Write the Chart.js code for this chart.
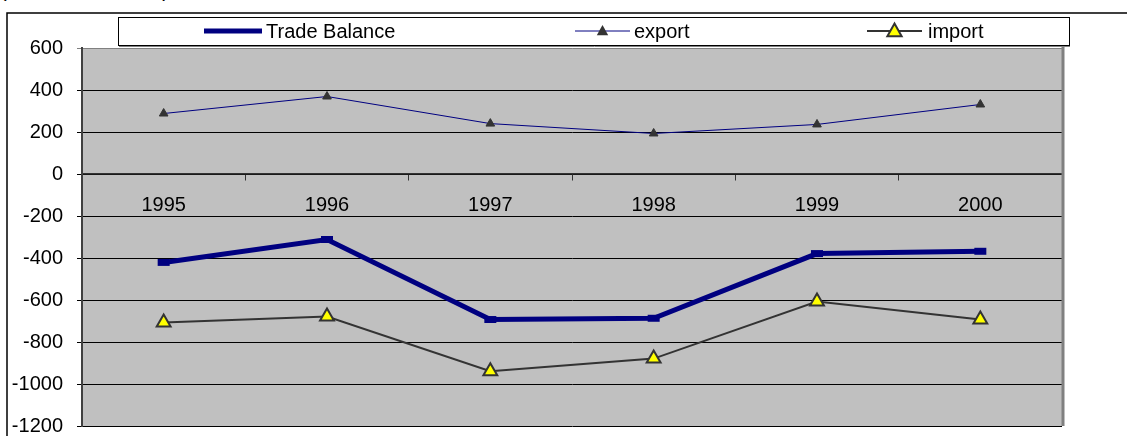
<!DOCTYPE html>
<html>
<head>
<meta charset="utf-8">
<script src="https://cdn.jsdelivr.net/npm/chart.js@4.4.0/dist/chart.umd.min.js"></script>
<style>
  html, body { margin: 0; padding: 0; background: #fff; }
  #wrap { position: relative; width: 1127px; height: 436px; overflow: hidden; }
  #cut { position: absolute; left: 0; top: -21px; font: 20px "Liberation Sans", Arial, sans-serif; white-space: pre; color: #000; }
  canvas { position: absolute; left: 0; top: 0; }
</style>
</head>
<body>
<div id="wrap">
  <div id="cut">(                            )</div>
  <canvas id="chart" width="1127" height="452"></canvas>
</div>
<script>
// --- Data ---
const years = ["1995", "1996", "1997", "1998", "1999", "2000"];
const tradeBalance = [-421, -312, -693, -687, -379, -368];
const exportVals = [288, 369, 240, 193, 236, 331];
const importVals = [-707, -679, -939, -879, -607, -693];
const yMin = -1200, yMax = 600, yStep = 200;

const FONT = "Liberation Sans";

// --- Helpers ---
function triangle(ctx, x, y, r, fill, stroke, lw) {
  ctx.beginPath();
  ctx.moveTo(x, y - r);
  ctx.lineTo(x + r * 0.95, y + r * 0.7);
  ctx.lineTo(x - r * 0.95, y + r * 0.7);
  ctx.closePath();
  ctx.fillStyle = fill;
  ctx.fill();
  if (lw) { ctx.lineWidth = lw; ctx.strokeStyle = stroke; ctx.stroke(); }
}

// frame, gray plot area and right border
const frame = {
  id: "frame",
  beforeDraw(chart) {
    const { ctx, chartArea: a } = chart;
    ctx.save();
    ctx.strokeStyle = "#000";
    ctx.lineWidth = 1.5;
    ctx.beginPath();
    ctx.moveTo(7, 452); ctx.lineTo(7, 13); ctx.lineTo(1127, 13);
    ctx.stroke();
    ctx.fillStyle = "#c0c0c0";
    ctx.fillRect(a.left, a.top, a.right - a.left, a.bottom - a.top);
    ctx.restore();
  },
  afterDraw(chart) {
    const { ctx, chartArea: a } = chart;
    ctx.save();
    ctx.strokeStyle = "#808080";
    ctx.lineWidth = 3;
    ctx.beginPath();
    ctx.moveTo(a.right + 1, a.top - 1); ctx.lineTo(a.right + 1, a.bottom);
    ctx.stroke();
    ctx.restore();
  }
};

// Excel style legend box, items spread across it
const legendBox = {
  id: "legendBox",
  afterDraw(chart) {
    const ctx = chart.ctx;
    const ds = chart.data.datasets;
    const items = [
      { x0: 204, x1: 262, tx: 266 },
      { x0: 575, x1: 630, tx: 634 },
      { x0: 867, x1: 922, tx: 928 }
    ];
    const y = 31;
    ctx.save();
    ctx.fillStyle = "#fff";
    ctx.fillRect(118.5, 17.5, 951, 28);
    ctx.strokeStyle = "#000";
    ctx.lineWidth = 1;
    ctx.strokeRect(118.5, 17.5, 951, 28);
    ctx.strokeStyle = "#808080";
    ctx.beginPath(); ctx.moveTo(119, 46.5); ctx.lineTo(1070, 46.5); ctx.stroke();

    items.forEach((it, i) => {
      const d = ds[i];
      ctx.strokeStyle = d.borderColor;
      ctx.lineWidth = d.borderWidth;
      ctx.beginPath(); ctx.moveTo(it.x0, y); ctx.lineTo(it.x1, y); ctx.stroke();
      const mx = (it.x0 + it.x1) / 2;
      if (i === 1) triangle(ctx, mx, y, 6, d.pointBackgroundColor, d.pointBorderColor, 0);
      if (i === 2) triangle(ctx, mx, y, 7.5, d.pointBackgroundColor, d.pointBorderColor, 2);
      ctx.fillStyle = "#000";
      ctx.font = "20px '" + FONT + "'";
      ctx.textBaseline = "middle";
      ctx.fillText(d.label, it.tx, y + 1);
    });
    ctx.restore();
  }
};

new Chart(document.getElementById("chart"), {
  type: "line",
  data: {
    labels: years,
    datasets: [
      {
        label: "Trade Balance", data: tradeBalance,
        borderColor: "#000080", borderWidth: 5,
        pointStyle: "line", pointRadius: 6, pointBorderWidth: 7,
        pointBorderColor: "#000080", pointBackgroundColor: "#000080"
      },
      {
        label: "export", data: exportVals,
        borderColor: "#000080", borderWidth: 1,
        pointStyle: "triangle", pointRadius: 5, pointBorderWidth: 1,
        pointBorderColor: "#333", pointBackgroundColor: "#333"
      },
      {
        label: "import", data: importVals,
        borderColor: "#333", borderWidth: 2,
        pointStyle: "triangle", pointRadius: 8, pointBorderWidth: 2,
        pointBorderColor: "#333", pointBackgroundColor: "#ffff00"
      }
    ]
  },
  options: {
    responsive: false,
    animation: false,
    layout: { padding: { top: 48, right: 65, bottom: 10, left: 0 } },
    plugins: { legend: { display: false }, tooltip: { enabled: false } },
    elements: { line: { tension: 0 } },
    scales: {
      x: {
        type: "category",
        position: { y: 0 },
        offset: true,
        grid: { drawOnChartArea: false, offset: true, tickLength: 6, color: "#333", lineWidth: 1 },
        border: { color: "#333", width: 1.5 },
        ticks: { color: "#000", font: { family: FONT, size: 20 }, padding: 13, maxRotation: 0 }
      },
      y: {
        min: yMin, max: yMax,
        afterFit(scale) { scale.width = 82; },
        grid: {
          color: c => (c.tick && c.tick.value === yMax ? "#808080" : "#000"),
          lineWidth: 1, tickLength: 5
        },
        border: { color: "#404040", width: 2 },
        ticks: {
          stepSize: yStep, color: "#000", font: { family: FONT, size: 20 }, padding: 14,
          callback: v => String(v)
        }
      }
    }
  },
  plugins: [frame, legendBox]
});
</script>
</body>
</html>
